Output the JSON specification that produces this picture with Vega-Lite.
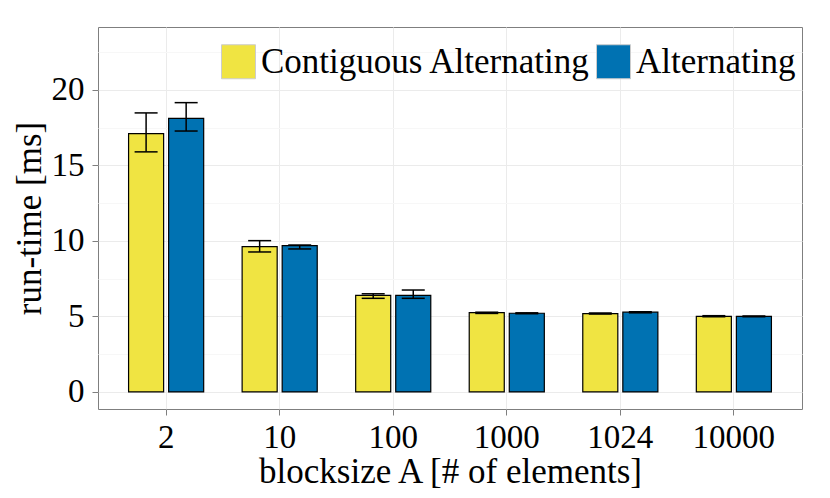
{
  "$schema": "https://vega.github.io/schema/vega-lite/v6.json",
  "autosize": "none",
  "width": 704,
  "height": 382,
  "padding": {"left": 98, "top": 27, "right": 28, "bottom": 89},
  "background": "#ffffff",
  "view": {"stroke": "#7f7f7f", "strokeWidth": 1},
  "config": {
    "font": "Liberation Serif",
    "axis": {
      "labelFont": "Liberation Serif",
      "titleFont": "Liberation Serif",
      "labelColor": "#000000",
      "titleColor": "#000000",
      "titleFontWeight": "normal",
      "labelFontSize": 33,
      "titleFontSize": 35,
      "domain": false,
      "tickColor": "#7f7f7f",
      "tickSize": 6,
      "gridColor": "#ebebeb"
    }
  },
  "data": {
    "values": [
      {"blocksize": "2", "method": "Contiguous Alternating", "mean": 17.11, "lo": 15.9, "hi": 18.48},
      {"blocksize": "2", "method": "Alternating", "mean": 18.12, "lo": 17.28, "hi": 19.16},
      {"blocksize": "10", "method": "Contiguous Alternating", "mean": 9.62, "lo": 9.27, "hi": 10.02},
      {"blocksize": "10", "method": "Alternating", "mean": 9.69, "lo": 9.47, "hi": 9.73},
      {"blocksize": "100", "method": "Contiguous Alternating", "mean": 6.4, "lo": 6.2, "hi": 6.5},
      {"blocksize": "100", "method": "Alternating", "mean": 6.4, "lo": 6.2, "hi": 6.75},
      {"blocksize": "1000", "method": "Contiguous Alternating", "mean": 5.25, "lo": 5.2, "hi": 5.28},
      {"blocksize": "1000", "method": "Alternating", "mean": 5.21, "lo": 5.18, "hi": 5.24},
      {"blocksize": "1024", "method": "Contiguous Alternating", "mean": 5.19, "lo": 5.17, "hi": 5.22},
      {"blocksize": "1024", "method": "Alternating", "mean": 5.28, "lo": 5.24, "hi": 5.31},
      {"blocksize": "10000", "method": "Contiguous Alternating", "mean": 5.01, "lo": 4.98, "hi": 5.05},
      {"blocksize": "10000", "method": "Alternating", "mean": 5.0, "lo": 4.98, "hi": 5.03}
    ]
  },
  "encoding": {
    "x": {
      "field": "blocksize",
      "type": "nominal",
      "sort": ["2", "10", "100", "1000", "1024", "10000"],
      "scale": {"paddingInner": 0, "paddingOuter": 0.1},
      "axis": {
        "title": "blocksize A [# of elements]",
        "labelAngle": 0,
        "bandPosition": 0.5,
        "labelPadding": 6,
        "titlePadding": 0,
        "grid": true
      }
    },
    "xOffset": {
      "field": "method",
      "type": "nominal",
      "sort": ["Contiguous Alternating", "Alternating"],
      "scale": {"paddingInner": 0.125, "paddingOuter": 0.48}
    }
  },
  "layer": [
    {
      "mark": {"type": "bar", "stroke": "#000000", "strokeWidth": 1.2},
      "encoding": {
        "y": {
          "field": "mean",
          "type": "quantitative",
          "scale": {"domain": [-1.13, 24.17], "nice": false, "zero": false},
          "axis": {
            "title": "run-time [ms]",
            "values": [0, 2.5, 5, 7.5, 10, 12.5, 15, 17.5, 20, 22.5],
            "labelExpr": "datum.value % 5 === 0 ? datum.label : ''",
            "tickOpacity": {"condition": {"test": "datum.value % 5 !== 0", "value": 0}, "value": 1},
            "gridColor": {"condition": {"test": "datum.value % 5 !== 0", "value": "#f7f7f7"}, "value": "#ebebeb"},
            "labelPadding": 8,
            "titlePadding": 4
          }
        },
        "y2": {"datum": 0},
        "color": {
          "field": "method",
          "type": "nominal",
          "scale": {"domain": ["Contiguous Alternating", "Alternating"], "range": ["#F0E442", "#0072B2"]},
          "legend": {
            "title": null,
            "orient": "none",
            "direction": "horizontal",
            "legendX": 123,
            "legendY": 17,
            "padding": 0,
            "symbolType": "square",
            "symbolSize": 1156,
            "symbolStrokeColor": "#cccccc",
            "symbolStrokeWidth": 1,
            "symbolOpacity": 1,
            "labelFont": "Liberation Serif",
            "labelFontSize": 35,
            "labelColor": "#000000",
            "labelLimit": 500,
            "labelOffset": 5,
            "columnPadding": 3
          }
        }
      }
    },
    {
      "mark": {"type": "rule", "color": "#000000", "strokeWidth": 1.5},
      "encoding": {
        "y": {"field": "lo", "type": "quantitative"},
        "y2": {"field": "hi"}
      }
    },
    {
      "mark": {"type": "tick", "color": "#000000", "size": 23, "thickness": 1.5, "opacity": 1},
      "encoding": {"y": {"field": "lo", "type": "quantitative"}}
    },
    {
      "mark": {"type": "tick", "color": "#000000", "size": 23, "thickness": 1.5, "opacity": 1},
      "encoding": {"y": {"field": "hi", "type": "quantitative"}}
    }
  ]
}
